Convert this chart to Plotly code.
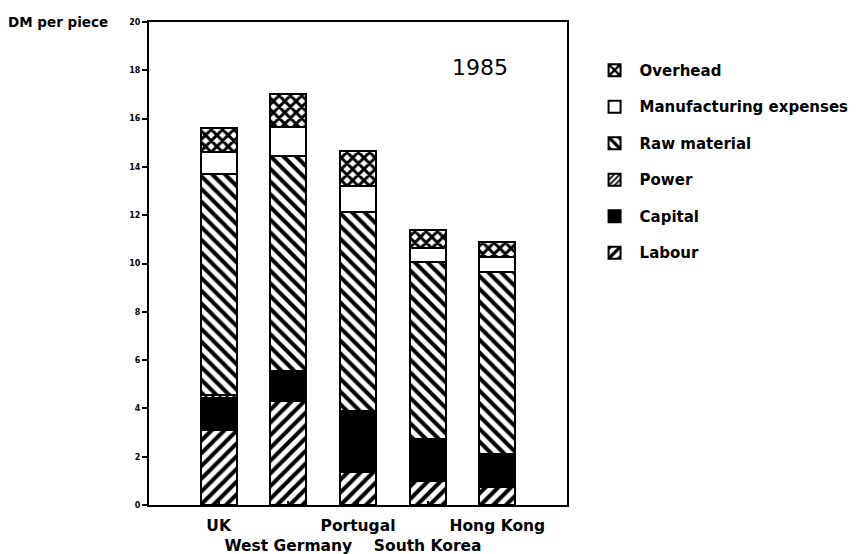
import plotly.graph_objects as go

countries = ["UK", "West Germany", "Portugal", "South Korea", "Hong Kong"]
tick_labels = ["UK", "<br>West Germany", "Portugal", "<br>South Korea", "Hong Kong"]

labour = [3.1, 4.3, 1.35, 1.0, 0.73]
capital = [1.35, 1.15, 2.45, 1.65, 1.3]
power = [0.1, 0.1, 0.1, 0.1, 0.1]
raw_material = [9.15, 8.9, 8.25, 7.3, 7.53]
manufacturing = [0.9, 1.2, 1.05, 0.6, 0.62]
overhead = [1.0, 1.35, 1.45, 0.75, 0.62]

y_ticks = [0, 2, 4, 6, 8, 10, 12, 14, 16, 18, 20]

series = [
    ("Labour", labour, dict(shape="/", size=9, solidity=0.45, fgcolor="black", bgcolor="white", fgopacity=1)),
    ("Capital", capital, dict(shape="", fgcolor="black", bgcolor="black")),
    ("Power", power, dict(shape="/", size=5, solidity=0.45, fgcolor="black", bgcolor="white", fgopacity=1)),
    ("Raw material", raw_material, dict(shape="\\", size=9, solidity=0.45, fgcolor="black", bgcolor="white", fgopacity=1)),
    ("Manufacturing expenses", manufacturing, dict(shape="", fgcolor="white", bgcolor="white")),
    ("Overhead", overhead, dict(shape="x", size=8, solidity=0.6, fgcolor="black", bgcolor="white", fgopacity=1)),
]

fig = go.Figure()
n = len(series)
for i, (name, vals, pat) in enumerate(series):
    color = "black" if name == "Capital" else "white"
    fig.add_trace(go.Bar(
        x=countries, y=vals, name=name, legendgroup=name,
        legendrank=n - i,
        width=0.52,
        marker=dict(color=color, pattern=pat, line=dict(color="black", width=2)),
    ))

fig.update_layout(
    barmode="stack",
    width=858, height=554,
    margin=dict(l=141, r=299, t=14, b=57, autoexpand=False),
    paper_bgcolor="white", plot_bgcolor="white",
    font=dict(family="DejaVu Sans", color="black"),
    showlegend=True,
    legend=dict(
        x=1.054, y=0.934, xanchor="left", yanchor="top",
        traceorder="grouped", tracegroupgap=14,
        font=dict(size=15, family="DejaVu Sans", weight="bold"),
        itemwidth=40, bgcolor="rgba(0,0,0,0)",
    ),
    xaxis=dict(
        range=[-1, 5], tickmode="array", tickvals=countries, ticktext=tick_labels,
        tickangle=0, automargin=False, ticklabelstandoff=5,
        showline=True, linecolor="black", linewidth=2, mirror=True,
        ticks="inside", ticklen=4, tickcolor="black", tickwidth=2,
        tickfont=dict(size=15.5, family="DejaVu Sans", weight="bold"),
        showgrid=False, zeroline=False,
    ),
    yaxis=dict(
        range=[0, 20], tickvals=y_ticks, automargin=False,
        showline=True, linecolor="black", linewidth=2, mirror=True,
        ticks="outside", ticklen=5, tickcolor="black", tickwidth=2,
        tickfont=dict(size=8, family="DejaVu Sans", weight="bold"),
        showgrid=False, zeroline=False,
    ),
    annotations=[
        dict(text="DM per piece", xref="paper", yref="paper", x=-0.342, y=1.0,
             xanchor="left", yanchor="middle", showarrow=False,
             font=dict(size=13.5, family="DejaVu Sans", weight="bold")),
        dict(text="1985", xref="paper", yref="paper", x=0.792, y=0.905,
             xanchor="center", yanchor="middle", showarrow=False,
             font=dict(size=22, family="DejaVu Sans")),
    ],
)

fig.write_html("out.html")
